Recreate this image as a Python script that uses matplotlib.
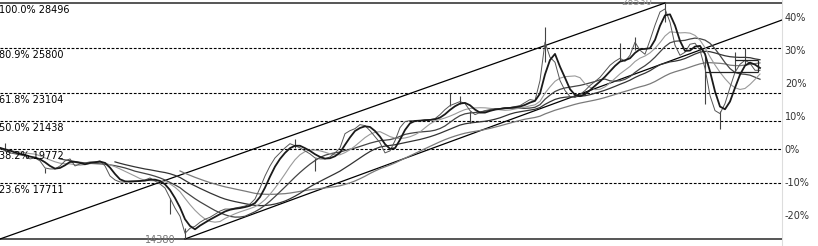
import numpy as np
import pandas as pd
import matplotlib
matplotlib.use("Agg")
import matplotlib.pyplot as plt

# closing prices, one value every few sessions
closes = [
    19830, 19650, 19530, 19470, 19410, 19350, 19170, 19230, 19050, 18630,
    18570, 18570, 18750, 19050, 19170, 18750, 18870, 18930, 18990, 18990,
    19050, 18750, 18150, 17910, 17790, 17790, 17850, 17850, 17850, 17910,
    18030, 17850, 17670, 17430, 16830, 16230, 15740, 14720, 15020, 15140,
    15380, 15560, 15680, 15860, 16050, 16170, 16170, 16230, 16290, 16350,
    16470, 16770, 17430, 18150, 18750, 19230, 19530, 19830, 20080, 19960,
    19830, 19650, 19470, 19230, 19170, 19170, 19290, 19530, 19830, 20680,
    20860, 20980, 21220, 21160, 20860, 20500, 20140, 19530, 19650, 20260,
    21040, 21400, 21460, 21460, 21460, 21520, 21520, 21580, 21820, 22120,
    22360, 22480, 22600, 22480, 22060, 21820, 21940, 22060, 22120, 22180,
    22180, 22240, 22240, 22300, 22360, 22540, 22720, 22660, 23860, 26150,
    25250, 24950, 23860, 23260, 22900, 22840, 23020, 23260, 23560, 23800,
    24050, 24410, 24770, 25010, 25190, 25010, 25370, 26150, 25670, 25430,
    26270, 27170, 27960, 28140, 27350, 25970, 25370, 25550, 26030, 26090,
    25670, 24590, 22960, 22060, 21880, 22480, 23440, 24350, 24830, 25070,
    24890, 24470, 24470,
]

# the bigger wicks
wick_idx = [1, 9, 34, 37, 59, 63, 90, 92, 94, 109, 124, 127, 133, 141, 144, 147, 149]
wick_low = [19650, 18330, 15860, 14380, 19830, 18450, 22360, 22480, 21340,
            24950, 25010, 25670, 27350, 22480, 20980, 24350, 24830]
wick_high = [20140, 18630, 16830, 15020, 20380, 19230, 23140, 22960, 22060,
             27050, 26090, 26450, 28530, 25370, 22060, 25550, 25790]

fib_ratios = [100.0, 80.9, 61.8, 50.0, 38.2, 23.6, 0.0]
fib_prices = [28496, 25800, 23104, 21438, 19772, 17711, 14380]
low_idx, low_price = 37, 14380
high_idx, high_price = 133, 28530
pct_base = 19772
pct_ticks = [40, 30, 20, 10, 0, -10, -20]

# channel lines (index, price)
upper_chan = [(0, 14380), (133, 28496)]
lower_chan = [(37, 14380), (156.4, 27480)]

s = pd.Series(closes, dtype=float)
x = np.arange(len(s))

fig = plt.figure(figsize=(8.18, 2.46), dpi=100)
ax = fig.add_axes([0, 0, 782 / 818, 1])
ax.set_xlim(0, 156.4)
ax.set_ylim(13961, 28675)
for sp in ax.spines.values():
    sp.set_visible(False)
ax.set_xticks([])
ax.set_yticks([])

# fib levels
for r, p in zip(fib_ratios, fib_prices):
    if r in (0.0, 100.0):
        ax.axhline(p, color="#555555", lw=1.4)
    else:
        ax.axhline(p, color="black", lw=0.8, ls=(0, (2.5, 1.5)))
    if r > 0:
        ax.annotate(f"{r:.1f}% {p}", xy=(0, p), xytext=(-0.8, -1.5),
                    textcoords="offset points", va="top", ha="left",
                    fontsize=7, color="black")

# channel
ax.plot(*zip(*upper_chan), color="black", lw=0.9)
ax.plot(*zip(*lower_chan), color="black", lw=0.9)

# moving averages
ax.plot(x, s.rolling(37).mean(), color="#7a7a7a", lw=0.9)
ax.plot(x, s.rolling(24).mean(), color="#333333", lw=0.9)
ax.plot(x, s.rolling(13).mean(), color="#444444", lw=0.9)
ax.plot(x, s.rolling(8, min_periods=1).mean(), color="#9a9a9a", lw=0.8)

# price
ax.vlines(wick_idx, wick_low, wick_high, color="#444444", lw=0.8)
ax.plot(x, s, color="#555555", lw=0.7)
ax.plot(x, s.rolling(3, min_periods=1).mean(), color="#1a1a1a", lw=1.3)

# box at the end
ax.hlines(25070, 147, 151.6, color="#222222", lw=0.9)
ax.hlines(24350, 141, 151.6, color="#222222", lw=0.9)
ax.vlines(151.6, 24350, 25070, color="#222222", lw=0.9)

ax.annotate(str(low_price), xy=(low_idx, low_price), xytext=(-7, -1),
            textcoords="offset points", ha="right", va="center",
            fontsize=7, color="#777777")
ax.annotate(str(high_price), xy=(high_idx, high_price), xytext=(-9, 0),
            textcoords="offset points", ha="right", va="center",
            fontsize=7, color="#999999")

# percent axis
sec = ax.secondary_yaxis("right", functions=(lambda p: (p / pct_base - 1) * 100,
                                             lambda q: (q / 100 + 1) * pct_base))
sec.set_yticks(pct_ticks)
sec.set_yticklabels([f"{t}%" for t in pct_ticks])
sec.tick_params(length=0, pad=2, labelsize=7, labelcolor="#333333")
sec.spines["right"].set_color("#dddddd")
sec.spines["right"].set_linewidth(0.8)

fig.savefig("out.png", dpi=100)
